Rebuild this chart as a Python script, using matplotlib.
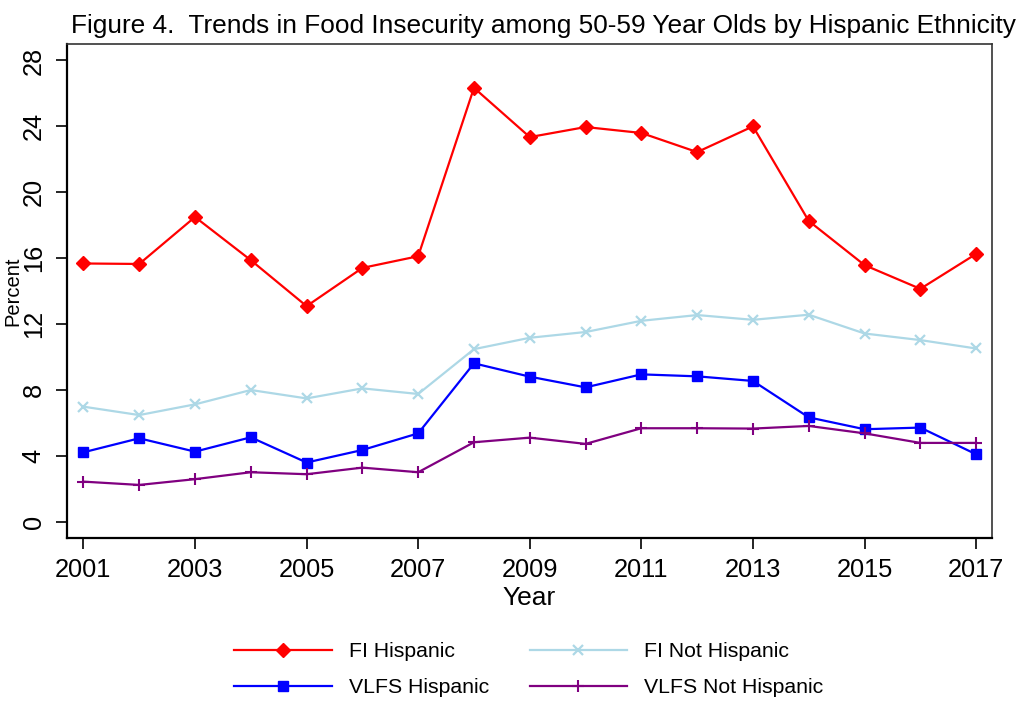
import matplotlib
matplotlib.use("Agg")
import matplotlib.pyplot as plt

plt.rcParams['font.family'] = ['Liberation Sans', 'DejaVu Sans']

years = list(range(2001, 2018))
fi_hispanic = [15.68, 15.65, 18.5, 15.88, 13.09, 15.41, 16.12, 26.34, 23.35, 23.96,
               23.6, 22.44, 24.0, 18.26, 15.58, 14.14, 16.26]
fi_not_hispanic = [6.99, 6.48, 7.13, 8.0, 7.49, 8.1, 7.76, 10.48, 11.17, 11.52,
                   12.2, 12.55, 12.26, 12.57, 11.43, 11.03, 10.52]
vlfs_hispanic = [4.22, 5.07, 4.26, 5.13, 3.6, 4.36, 5.37, 9.62, 8.81, 8.16,
                 8.95, 8.83, 8.55, 6.34, 5.62, 5.72, 4.1]
vlfs_not_hispanic = [2.44, 2.24, 2.59, 3.01, 2.89, 3.29, 3.01, 4.83, 5.11, 4.73,
                     5.68, 5.68, 5.66, 5.82, 5.37, 4.79, 4.79]

xticks = list(range(2001, 2018, 2))
yticks = list(range(0, 29, 4))

fig = plt.figure(figsize=(10.29, 7.13), dpi=100)
ax = fig.add_axes([0.0648, 0.245, 0.899, 0.6933])

l1, = ax.plot(years, fi_hispanic, color='#FF0000', lw=1.6, marker='D', ms=6.8,
              label='FI Hispanic')
l2, = ax.plot(years, fi_not_hispanic, color='#ADD8E6', lw=1.6, marker='x', ms=6.5,
              mew=1.6, label='FI Not Hispanic')
l3, = ax.plot(years, vlfs_hispanic, color='#0000FF', lw=1.6, marker='s', ms=7.5,
              label='VLFS Hispanic')
l4, = ax.plot(years, vlfs_not_hispanic, color='#800080', lw=1.6, marker='+', ms=9,
              mew=1.5, label='VLFS Not Hispanic')

ax.set_xlim(2000.7, 2017.28)
ax.set_ylim(-1, 29)
ax.set_xticks(xticks)
ax.set_xticklabels([str(y) for y in xticks], fontsize=18.3)
ax.set_yticks(yticks)
ax.set_yticklabels([str(v) for v in yticks], fontsize=18.3, rotation=90, va='center')
ax.tick_params(axis='x', direction='out', length=8, width=1.2, pad=6)
ax.tick_params(axis='y', direction='out', length=8, width=1.2, pad=7)

for side in ['left', 'bottom']:
    ax.spines[side].set_linewidth(1.6)
for side in ['top', 'right']:
    ax.spines[side].set_linewidth(1.2)
    ax.spines[side].set_color('#333333')

ax.set_xlabel('Year', fontsize=19, labelpad=3)
ax.set_ylabel('Percent', fontsize=14.5)
ax.yaxis.set_label_coords(-0.048, 0.5)

ax.set_title('Figure 4.  Trends in Food Insecurity among 50-59 Year Olds by Hispanic Ethnicity',
             fontsize=18.9, pad=8, x=0.5155)

fig.legend(handles=[l1, l3, l2, l4], ncol=2, loc='center',
           bbox_to_anchor=(0.514, 0.061), frameon=False, fontsize=15.3,
           handlelength=4.6, handletextpad=0.8, columnspacing=1.9,
           labelspacing=0.8)

fig.savefig('out.png', dpi=100, facecolor='white')
